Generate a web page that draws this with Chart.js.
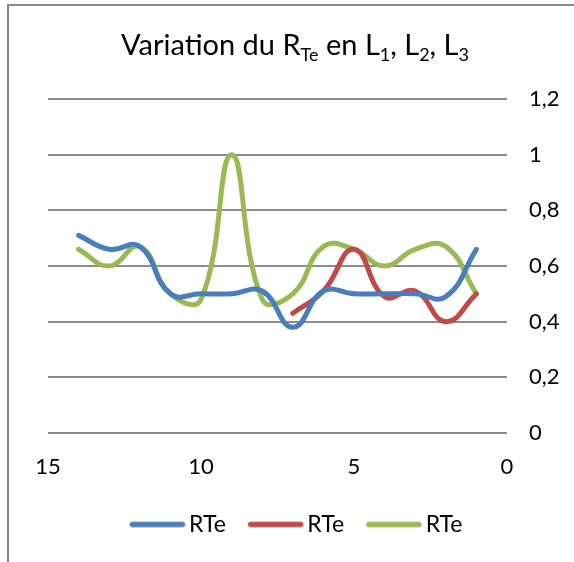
<!DOCTYPE html>
<html>
<head>
<meta charset="utf-8">
<script src="https://cdn.jsdelivr.net/npm/chart.js@4/dist/chart.umd.min.js"></script>
<style>
  html, body { margin: 0; padding: 0; background: #fff; overflow: hidden; }
  #wrap { position: relative; width: 574px; height: 562px; }
  #frame { position: absolute; left: 7px; top: 4px; width: 620px; height: 620px; border: 2px solid #8a8a8a; box-sizing: border-box; }
  #title { position: absolute; left: 0; top: 27px; width: 590px; text-align: center; font-family: Lato, "Open Sans", sans-serif; font-size: 29px; line-height: 34px; color: #000; white-space: nowrap; }
  #title sub { font-size: 18px; vertical-align: -6px; line-height: 0; }
  canvas { position: absolute; left: 0; top: 0; }
</style>
</head>
<body>
<div id="wrap">
  <div id="frame"></div>
  <canvas id="c" width="574" height="562"></canvas>
  <div id="title">Variation du R<sub>Te</sub> en L<sub>1</sub>, L<sub>2</sub>, L<sub>3</sub></div>
</div>
<script>
// Data
const xValuesL1 = [14, 13, 12, 11, 10, 9, 8, 7, 6, 5, 4, 3, 2, 1];
const rteL1 = [0.71, 0.66, 0.67, 0.50, 0.50, 0.50, 0.51, 0.38, 0.51, 0.50, 0.50, 0.50, 0.49, 0.66];
const xValuesL2 = [7, 6, 5, 4, 3, 2, 1];
const rteL2 = [0.43, 0.51, 0.66, 0.49, 0.51, 0.40, 0.50];
const xValuesL3 = [14, 13, 12, 11, 10, 9, 8, 7, 6, 5, 4, 3, 2, 1];
const rteL3 = [0.66, 0.60, 0.67, 0.50, 0.48, 1.00, 0.48, 0.50, 0.67, 0.66, 0.60, 0.66, 0.67, 0.50];
const seriesNames = ["RTe", "RTe", "RTe"];
const seriesColors = ["#4a7ebb", "#be4b48", "#98b954"];

const toPoints = (xs, ys) => xs.map((x, i) => ({ x: x, y: ys[i] }));

const font = "Lato, 'Open Sans', sans-serif";

// Legend marker: a thick rounded line, shifted so it sits close to its label
function legendLine(color) {
  const c = document.createElement('canvas');
  c.width = 64; c.height = 10;
  const g = c.getContext('2d');
  g.strokeStyle = color;
  g.lineWidth = 5.5;
  g.lineCap = 'round';
  g.beginPath();
  g.moveTo(8 + 2.75, 5);
  g.lineTo(63.5 - 2.75, 5);
  g.stroke();
  return c;
}

function ds(label, xs, ys, color) {
  return {
    label: label,
    data: toPoints(xs, ys),
    xAxisID: 'x',
    yAxisID: 'y',
    borderColor: color,
    backgroundColor: color,
    borderWidth: 5,
    borderCapStyle: 'round',
    borderJoinStyle: 'round',
    pointRadius: 0,
    pointHoverRadius: 0,
    pointStyle: legendLine(color),
    tension: 0.45,
    fill: false
  };
}

new Chart(document.getElementById('c'), {
  type: 'line',
  data: {
    datasets: [
      ds(seriesNames[0], xValuesL1, rteL1, seriesColors[0]),
      ds(seriesNames[1], xValuesL2, rteL2, seriesColors[1]),
      ds(seriesNames[2], xValuesL3, rteL3, seriesColors[2])
    ]
  },
  options: {
    responsive: false,
    animation: false,
    layout: { padding: { top: 99, left: 18, right: 0, bottom: 16 } },
    plugins: {
      title: { display: false },
      tooltip: { enabled: false },
      legend: {
        position: 'bottom',
        labels: {
          usePointStyle: true,
          pointStyleWidth: 48,
          boxHeight: 10,
          padding: 22,
          color: '#000',
          font: { family: font, size: 23 }
        }
      }
    },
    scales: {
      x: {
        type: 'linear',
        reverse: true,
        min: 0,
        max: 15,
        ticks: { stepSize: 5, color: '#000', padding: 21, font: { family: font, size: 22 } },
        grid: { display: false, drawTicks: false },
        border: { display: false },
        afterFit: (s) => { s.height = 58; }
      },
      y: {
        position: 'right',
        min: 0,
        max: 1.2,
        ticks: {
          stepSize: 0.2,
          color: '#000',
          padding: 22,
          font: { family: font, size: 22 },
          callback: (v) => (Math.round(v * 10) / 10).toString().replace('.', ',')
        },
        grid: { color: '#8c8c8c', lineWidth: 2, drawTicks: false },
        border: { display: false },
        afterFit: (s) => { s.width = 67; }
      },
      yLeftSpace: {
        type: 'linear',
        position: 'left',
        min: 0,
        max: 1,
        ticks: { display: false },
        grid: { display: false, drawTicks: false },
        border: { display: false },
        afterFit: (s) => { s.width = 30; }
      }
    }
  }
});
</script>
</body>
</html>
